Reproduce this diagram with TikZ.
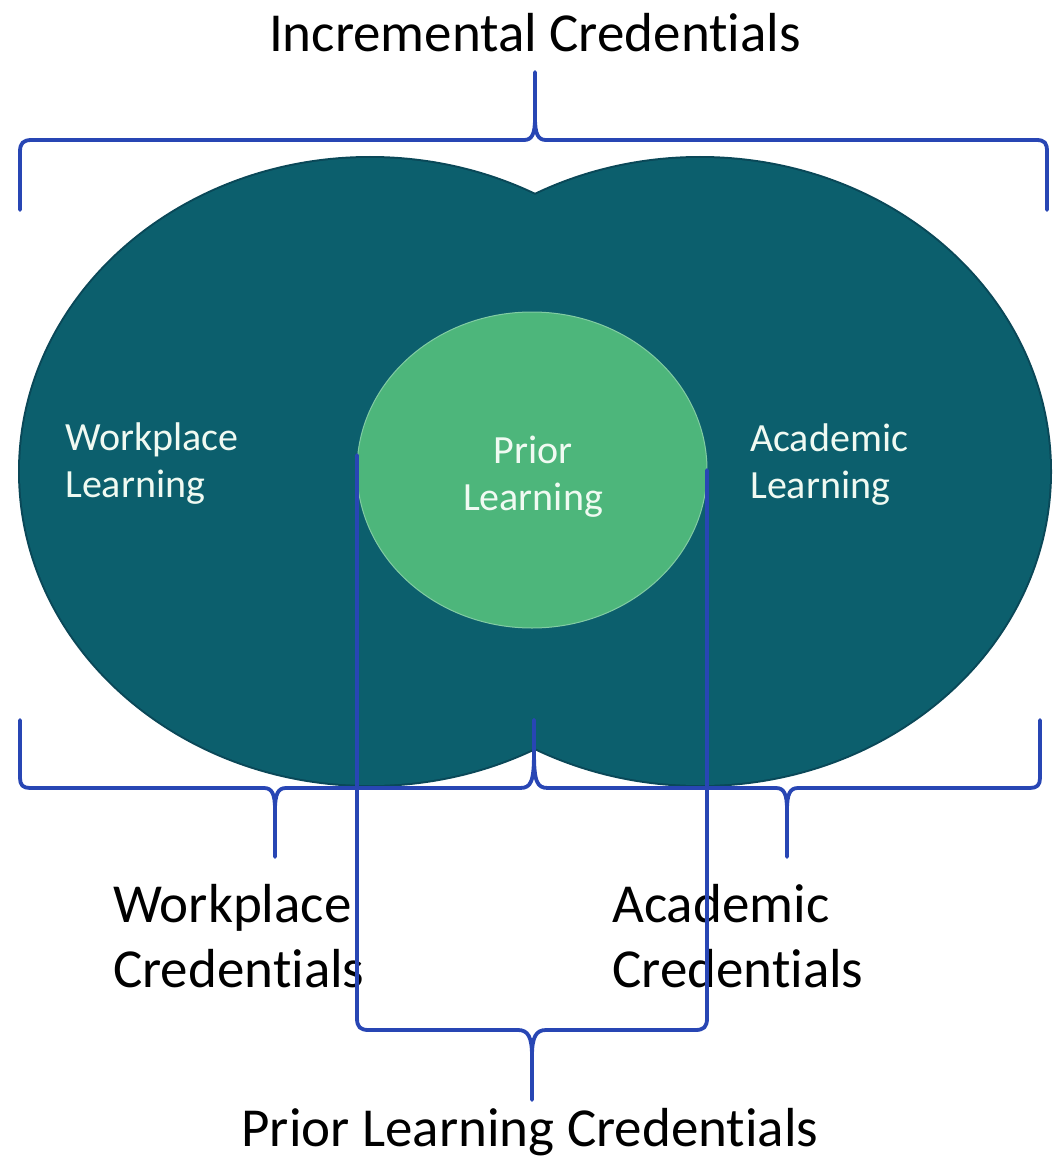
\documentclass[tikz,border=0pt]{standalone}
\usepackage{fontspec}
\setmainfont{Carlito}[Ligatures=NoCommon]
\usetikzlibrary{shapes.geometric}
\definecolor{lobe}{RGB}{12,95,109}
\definecolor{lobeedge}{RGB}{10,72,88}
\definecolor{core}{RGB}{77,182,123}
\definecolor{bracket}{RGB}{40,70,180}
\definecolor{pale}{RGB}{240,250,242}
\begin{document}
\begin{tikzpicture}[x=1pt,y=-1pt,
  lobe/.style={ellipse, inner sep=0pt, minimum width=700pt, minimum height=627pt},
  brace/.style={draw=bracket, line width=3.8pt, line join=round, line cap=round},
  bigtext/.style={font=\fontsize{55}{65}\selectfont, text=black, inner sep=0pt},
  innertext/.style={font=\fontsize{40}{47}\selectfont, text=pale, inner sep=0pt}]

\useasboundingbox (0,0) rectangle (1053,1161);

% outer rim of the two learning areas, then their fills on top
\node[lobe, draw=lobeedge, line width=4pt] (wlrim) at (370,471.5) {};
\node[lobe, draw=lobeedge, line width=4pt] (alrim) at (700,471.5) {};
\node[lobe, fill=lobe] (wl) at (370,471.5) {};
\node[lobe, fill=lobe] (al) at (700,471.5) {};

% prior learning in the overlap
\node[ellipse, inner sep=0pt, minimum width=350pt, minimum height=316pt,
      fill=core, draw=core!70!white, line width=1pt] (pl) at (532,470) {};

% labels inside the areas (base = baseline of the last line)
\node[innertext, anchor=base west, align=left] (wlt) at (65,497) {Workplace\\Learning};
\node[innertext, anchor=base west, align=left] (alt) at (750,498) {Academic\\Learning};
\node[innertext, anchor=base, align=center] (plt) at (533,510) {Prior\\Learning};

% credential labels
\node[bigtext, anchor=base] (inc) at (535,52) {Incremental Credentials};
\node[bigtext, anchor=base west, align=left] (wc) at (113,987) {Workplace\\Credentials};
\node[bigtext, anchor=base west, align=left] (ac) at (612,987) {Academic\\Credentials};
\node[bigtext, anchor=base] (plc) at (530,1146) {Prior Learning Credentials};

% brace over both areas
\draw[brace] (20,210) -- (20,152) .. controls (20,143) and (23,140) .. (32,140)
  -- (524,140) .. controls (532,140) and (535,134) .. (535,118) -- (535,72)
  -- (535,118) .. controls (535,134) and (538,140) .. (546,140)
  -- (1036,140) .. controls (1045,140) and (1047,143) .. (1047,152) -- (1047,210);

% brace under the workplace area
\draw[brace] (20,720) -- (20,778) .. controls (20,785) and (23,788) .. (30,788)
  -- (264,788) .. controls (272,788) and (275,794) .. (275,810) -- (275,857)
  -- (275,810) .. controls (275,794) and (278,788) .. (286,788)
  -- (520,788) .. controls (531,788) and (534,782) .. (534,752) -- (534,720);

% brace under the academic area
\draw[brace] (534,720) -- (534,752) .. controls (534,782) and (537,788) .. (548,788)
  -- (776,788) .. controls (784,788) and (787,794) .. (787,810) -- (787,857)
  -- (787,810) .. controls (787,794) and (790,788) .. (798,788)
  -- (1030,788) .. controls (1037,788) and (1040,785) .. (1040,778) -- (1040,720);

% brace around prior learning
\draw[brace] (357,455) -- (357,1018) .. controls (357,1027) and (360,1030) .. (369,1030)
  -- (518,1030) .. controls (528,1030) and (532,1037) .. (532,1056) -- (532,1100)
  -- (532,1056) .. controls (532,1037) and (536,1030) .. (546,1030)
  -- (695,1030) .. controls (704,1030) and (707,1027) .. (707,1018) -- (707,470);
\end{tikzpicture}
\end{document}
